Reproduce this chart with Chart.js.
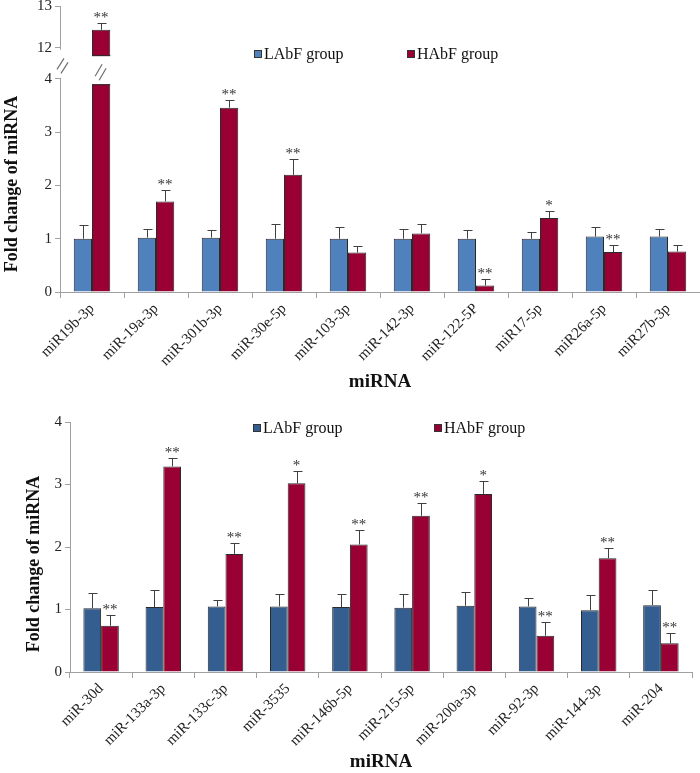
<!DOCTYPE html>
<html>
<head>
<meta charset="utf-8">
<script src="https://cdn.jsdelivr.net/npm/chart.js@4.4.1/dist/chart.umd.min.js"></script>
<style>
  body { margin: 0; background: #fff; }
  #wrap { position: relative; width: 700px; height: 773px; }
  .panel { position: absolute; left: 0; width: 700px; }
  #p1 { top: 0; height: 393px; }
  #p2 { top: 390px; height: 383px; }
</style>
</head>
<body>
<div id="wrap">
  <div class="panel" id="p1"><canvas id="chart1"></canvas></div>
  <div class="panel" id="p2"><canvas id="chart2"></canvas></div>
</div>
<script>
// ---- data ----
const seriesNames = ['LAbF group', 'HAbF group'];
const yTitle = 'Fold change of miRNA';
const xTitle = 'miRNA';

const cats1 = ['miR19b-3p', 'miR-19a-3p', 'miR-301b-3p', 'miR-30e-5p', 'miR-103-3p',
               'miR-142-3p', 'miR-122-5P', 'miR17-5p', 'miR26a-5p', 'miR27b-3p'];
const labf1 = [1.00, 1.02, 1.02, 1.00, 1.00, 1.00, 1.00, 1.00, 1.04, 1.04];
const labf1Err = [0.26, 0.17, 0.14, 0.27, 0.22, 0.18, 0.16, 0.12, 0.18, 0.14];
const habf1 = [12.43, 1.70, 3.46, 2.20, 0.74, 1.10, 0.12, 1.39, 0.75, 0.76];
const habf1Err = [0.16, 0.21, 0.15, 0.29, 0.12, 0.18, 0.13, 0.13, 0.13, 0.12];
const labf1Stars = ['', '', '', '', '', '', '', '', '', ''];
const habf1Stars = ['**', '**', '**', '**', '', '', '**', '*', '**', ''];
const yTicks1 = [0, 1, 2, 3, 4, 12, 13];

const cats2 = ['miR-30d', 'miR-133a-3p', 'miR-133c-3p', 'miR-3535', 'miR-146b-5p',
               'miR-215-5p', 'miR-200a-3p', 'miR-92-3p', 'miR-144-3p', 'miR-204'];
const labf2 = [1.02, 1.04, 1.05, 1.05, 1.04, 1.03, 1.06, 1.05, 0.99, 1.07];
const labf2Err = [0.25, 0.27, 0.11, 0.20, 0.21, 0.22, 0.22, 0.14, 0.25, 0.24];
const habf2 = [0.74, 3.29, 1.89, 3.02, 2.04, 2.50, 2.85, 0.58, 1.82, 0.46];
const habf2Err = [0.18, 0.14, 0.17, 0.20, 0.24, 0.20, 0.20, 0.22, 0.17, 0.17];
const labf2Stars = ['', '', '', '', '', '', '', '', '', ''];
const habf2Stars = ['**', '**', '**', '*', '**', '**', '*', '**', '**', '**'];
const yTicks2 = [0, 1, 2, 3, 4];

// broken axis for the upper panel
const breakLow = 4;
const breakHigh = 12;
const lowerShare = 0.745;
const gapShare = 0.109;

const serif = '"Liberation Serif", "Times New Roman", serif';
const axisGray = '#a0a0a0';

class BrokenScale extends Chart.LinearScale {
  getPixelForValue(value) {
    const h = this.bottom - this.top;
    const yLow = this.bottom - h * lowerShare;
    const yHigh = yLow - h * gapShare;
    if (value <= breakLow) return this.bottom - value / breakLow * (this.bottom - yLow);
    if (value >= breakHigh) return yHigh - (value - breakHigh) / (this.max - breakHigh) * (yHigh - this.top);
    return yLow - (value - breakLow) / (breakHigh - breakLow) * (yLow - yHigh);
  }
}
BrokenScale.id = 'broken';
BrokenScale.defaults = Chart.LinearScale.defaults;
Chart.register(BrokenScale);

const decor = {
  id: 'decor',
  afterDatasetsDraw(chart, args, opts) {
    const ctx = chart.ctx;
    const y = chart.scales.y;
    ctx.save();
    chart.data.datasets.forEach((ds, i) => {
      chart.getDatasetMeta(i).data.forEach((bar, j) => {
        const top = Math.round(y.getPixelForValue(ds.data[j] + ds.errors[j])) + 0.5;
        const x = Math.round(bar.x) + 0.5;
        ctx.strokeStyle = '#404040';
        ctx.lineWidth = 1;
        ctx.beginPath();
        ctx.moveTo(x, bar.y);
        ctx.lineTo(x, top);
        ctx.moveTo(x - 4, top);
        ctx.lineTo(x + 5, top);
        ctx.stroke();
        if (ds.stars[j]) {
          ctx.fillStyle = '#333';
          ctx.font = '15px ' + serif;
          ctx.textAlign = 'center';
          ctx.textBaseline = 'alphabetic';
          ctx.fillText(ds.stars[j], bar.x, top - 1.5);
        }
      });
    });

    if (opts.broken) {
      const left = chart.chartArea.left;
      const yLow = y.getPixelForValue(breakLow);
      const yHigh = y.getPixelForValue(breakHigh);
      const upUnit = yHigh - y.getPixelForValue(breakHigh + 1);
      const lowUnit = y.getPixelForValue(breakLow - 1) - yLow;
      const mid = (yLow + yHigh) / 2;
      ctx.fillStyle = '#fff';
      ctx.fillRect(left - 3, yHigh + 2, 6, yLow - yHigh - 3);
      ctx.strokeStyle = '#707070';
      ctx.lineWidth = 1.2;
      ctx.beginPath();
      ctx.moveTo(left - 3, mid + 6); ctx.lineTo(left + 4, mid - 5);
      ctx.moveTo(left + 1, mid + 10); ctx.lineTo(left + 8, mid - 1);
      ctx.stroke();

      chart.data.datasets.forEach((ds, i) => {
        chart.getDatasetMeta(i).data.forEach((bar, j) => {
          if (ds.data[j] <= breakHigh) return;
          const cutTop = yHigh + 0.2 * upUnit;
          const cutBot = yLow + 0.1 * lowUnit;
          const l = bar.x - bar.width / 2;
          ctx.fillStyle = '#fff';
          ctx.fillRect(l - 1, cutTop, bar.width + 2, cutBot - cutTop);
          ctx.strokeStyle = '#2a2a2a';
          ctx.lineWidth = 1;
          ctx.beginPath();
          ctx.moveTo(l, cutTop - 0.5); ctx.lineTo(l + bar.width, cutTop - 0.5);
          ctx.moveTo(l, cutBot + 0.5); ctx.lineTo(l + bar.width, cutBot + 0.5);
          ctx.stroke();
          const bm = (cutTop + cutBot) / 2;
          ctx.strokeStyle = '#707070';
          ctx.lineWidth = 1.2;
          ctx.beginPath();
          ctx.moveTo(bar.x - 6, bm + 6); ctx.lineTo(bar.x + 1, bm - 6);
          ctx.moveTo(bar.x - 2, bm + 10); ctx.lineTo(bar.x + 5, bm - 2);
          ctx.stroke();
        });
      });
    }
    ctx.restore();
  },
  afterDraw(chart, args, opts) {
    const ctx = chart.ctx;
    ctx.save();
    // legend
    chart.data.datasets.forEach((ds, i) => {
      const x0 = opts.legendX[i];
      const y0 = opts.legendY;
      ctx.fillStyle = ds.backgroundColor;
      ctx.fillRect(x0, y0 - 4, 8, 8);
      ctx.strokeStyle = '#333';
      ctx.lineWidth = 1;
      ctx.strokeRect(x0 + 0.5, y0 - 3.5, 7, 7);
      ctx.fillStyle = '#111';
      ctx.font = '16px ' + serif;
      ctx.textAlign = 'left';
      ctx.textBaseline = 'middle';
      ctx.fillText(ds.label, x0 + 10, y0 + 1);
    });
    // y axis title
    ctx.translate(opts.titleX, chart.chartArea.bottom - 108);
    ctx.rotate(-Math.PI / 2);
    ctx.fillStyle = '#111';
    ctx.font = 'bold 18px ' + serif;
    ctx.textAlign = 'center';
    ctx.textBaseline = 'middle';
    ctx.fillText(yTitle, 0, 0);
    ctx.restore();
  }
};

function makeChart(id, cats, lab, labErr, labStars, hab, habErr, habStars, labColor, yOpts, extra) {
  return new Chart(document.getElementById(id), {
    type: 'bar',
    data: {
      labels: cats,
      datasets: [
        { label: seriesNames[0], data: lab, errors: labErr, stars: labStars,
          backgroundColor: labColor, borderColor: '#2a2a2a', borderWidth: 1,
          categoryPercentage: 0.57, barPercentage: 1.0 },
        { label: seriesNames[1], data: hab, errors: habErr, stars: habStars,
          backgroundColor: '#990033', borderColor: '#2a2a2a', borderWidth: 1,
          categoryPercentage: 0.57, barPercentage: 1.0 }
      ]
    },
    options: {
      responsive: true,
      maintainAspectRatio: false,
      animation: false,
      events: [],
      layout: { padding: extra.padding },
      plugins: {
        legend: { display: false },
        tooltip: { enabled: false },
        decor: extra.decor
      },
      scales: {
        x: {
          grid: { display: true, drawOnChartArea: false, tickLength: 6, color: axisGray, offset: true },
          border: { color: axisGray },
          ticks: { font: { family: serif, size: 15 }, color: '#222', minRotation: 45, maxRotation: 45, autoSkip: false, padding: 2 },
          title: { display: true, text: xTitle, color: '#111', padding: 0,
                   font: { family: serif, size: 19, weight: 'bold', lineHeight: 1.15 } },
          afterFit: s => { s.height = 101; s.paddingLeft = 0; s.paddingRight = 0; }
        },
        y: Object.assign({
          grid: { display: true, drawOnChartArea: false, tickLength: 5, color: axisGray },
          border: { color: axisGray },
          ticks: { font: { family: serif, size: 15 }, color: '#222', padding: 3, autoSkip: false }
        }, yOpts)
      }
    },
    plugins: [decor]
  });
}

makeChart('chart1', cats1, labf1, labf1Err, labf1Stars, habf1, habf1Err, habf1Stars, '#4f81bd', {
  type: 'broken', min: 0, max: 13,
  afterBuildTicks: s => { s.ticks = yTicks1.map(v => ({ value: v })); },
  afterFit: s => { s.width = 60; s.paddingTop = 6; s.paddingBottom = 0; }
}, {
  padding: { top: 0, left: 0, right: 0, bottom: 0 },
  decor: { broken: true, legendX: [254, 407], legendY: 54, titleX: 12 }
});

makeChart('chart2', cats2, labf2, labf2Err, labf2Stars, habf2, habf2Err, habf2Stars, '#345d90', {
  min: 0, max: 4,
  afterBuildTicks: s => { s.ticks = yTicks2.map(v => ({ value: v })); },
  afterFit: s => { s.width = 48; s.paddingBottom = 0; }
}, {
  padding: { top: 32, left: 22, right: 8, bottom: 0 },
  decor: { broken: false, legendX: [253, 434], legendY: 38, titleX: 34 }
});
</script>
</body>
</html>
